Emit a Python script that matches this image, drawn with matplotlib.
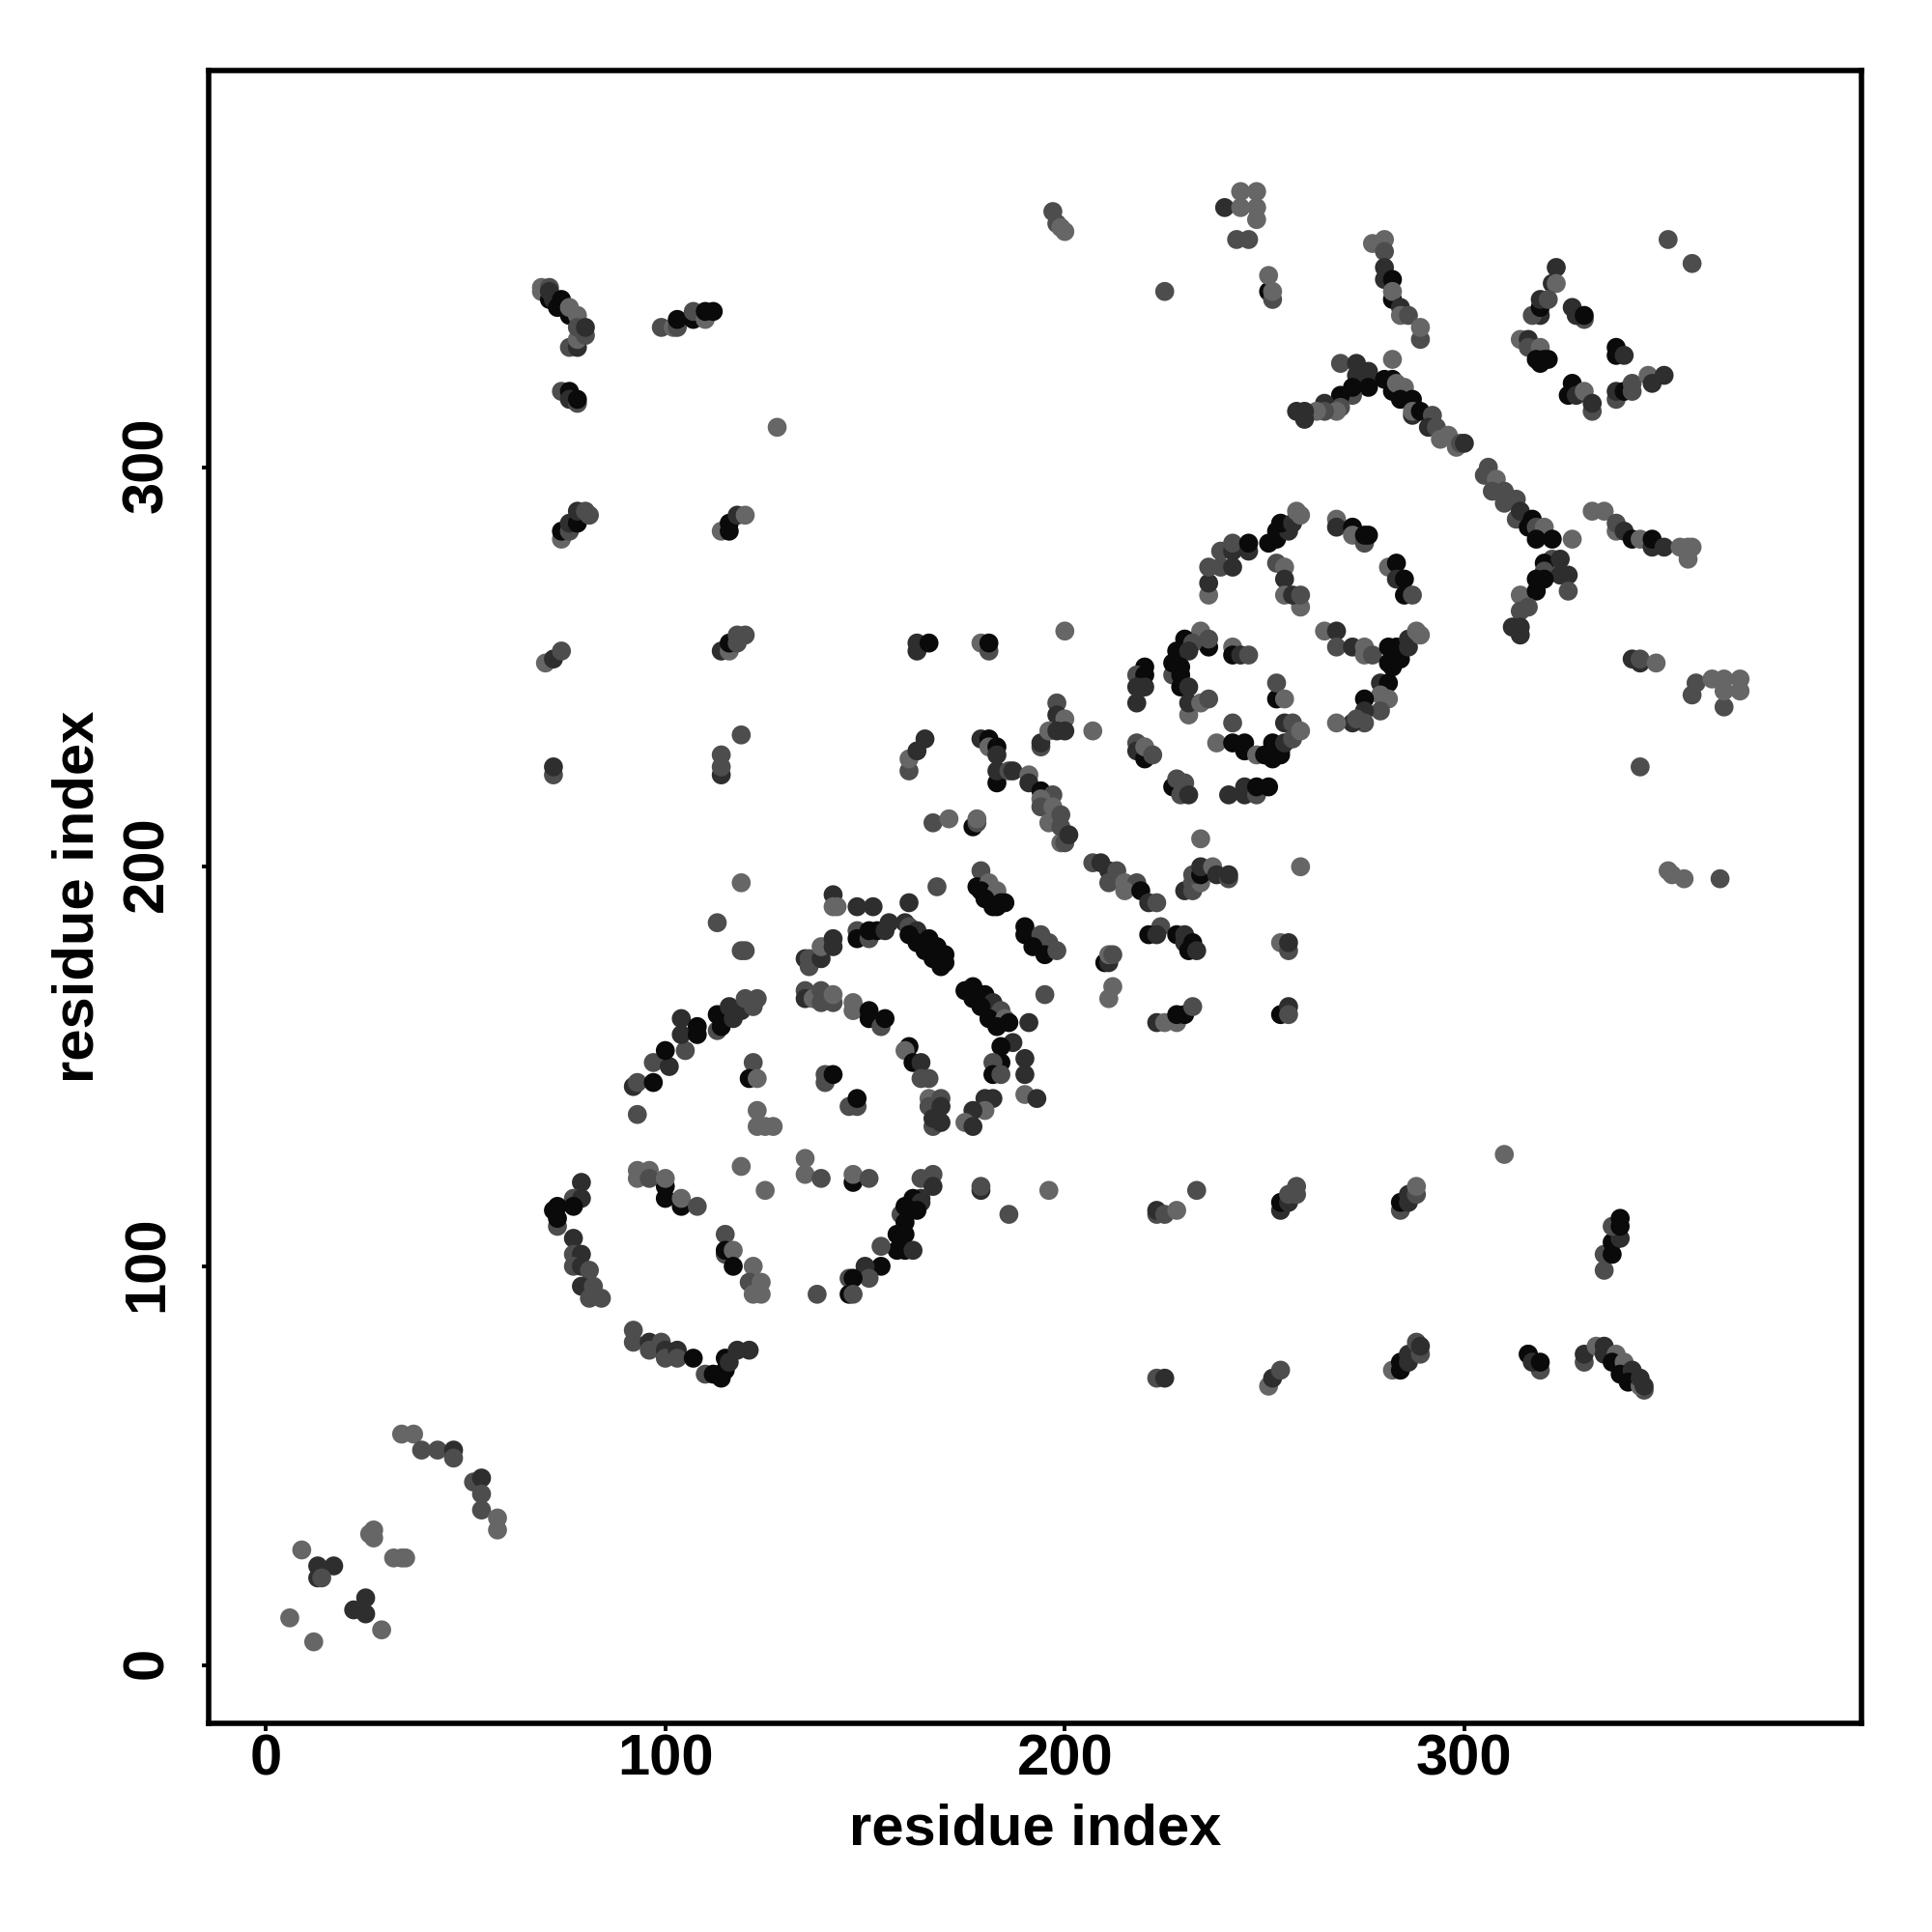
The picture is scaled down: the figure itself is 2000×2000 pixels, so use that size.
import matplotlib
matplotlib.use("Agg")
import matplotlib.pyplot as plt
from matplotlib.transforms import ScaledTranslation

plt.rcParams['font.family'] = ['Liberation Sans', 'DejaVu Sans']
plt.rcParams['font.weight'] = 'bold'

# contacts as (residue, residue, shade)
# L = light, M = mid, D = dark, B = black
shades = {'L': '#666666', 'M': '#4d4d4d', 'D': '#2e2e2e', 'B': '#0a0a0a'}

corner = [(6,12,'L'),(12,6,'L'),(9,29,'L'),(13,25,'D'),(17,25,'D'),(13,22,'D'),(14,22,'M'),
          (22,14,'D'),(25,17,'D'),(25,13,'D'),(29,9,'L'),(26,33,'L'),(27,34,'L'),(27,32,'L'),
          (32,27,'L'),(34,27,'L'),(35,27,'L'),(34,58,'L'),(37,58,'L'),(39,54,'M'),(43,54,'M'),
          (47,54,'D'),(47,52,'M'),(52,46,'M'),(54,47,'D'),(54,43,'M'),(54,39,'M'),(58,37,'L'),(58,34,'L')]

ring_upper = [(119,196,'L'),(113,186,'M'),(119,179,'M'),(120,179,'M'),(142,193,'D'),(143,190,'L'),(142,190,'L'),
              (148,190,'D'),(152,190,'D'),(161,191,'D'),(168,195,'M'),(179,199,'M'),(178,195,'B'),(181,196,'L'),
              (179,194,'B'),(183,194,'L'),(180,192,'B'),(182,190,'B'),(183,190,'B'),(184,191,'B'),(185,191,'B'),
              (135,177,'D'),(136,175,'M'),(136,177,'M'),(139,177,'D'),(139,180,'L'),(142,180,'D'),(142,182,'D'),
              (148,184,'M'),(148,182,'B'),(151,182,'M'),(151,184,'B'),(153,184,'B'),(155,184,'D'),(156,186,'D'),
              (160,186,'D'),(161,185,'M'),(163,184,'D'),(161,183,'B'),(166,182,'B'),(163,181,'B'),(168,180,'B'),
              (165,179,'B'),(170,178,'B'),(167,177,'B'),(170,176,'B'),(169,175,'B'),
              (190,185,'B'),(190,183,'B'),(194,183,'M'),(196,181,'M'),(192,180,'B'),(195,178,'B'),(198,179,'M'),
              (195,168,'M'),(175,169,'B'),(177,170,'B'),(180,168,'B'),(177,167,'B'),(182,166,'D'),(179,165,'B'),
              (184,164,'M'),(181,162,'B'),(185,162,'L'),(183,160,'B'),(186,161,'B'),(191,161,'D'),(187,156,'D'),
              (184,155,'B'),(184,151,'B'),(182,151,'M'),(190,152,'D'),(190,148,'D'),(182,148,'B'),(184,148,'M'),
              (190,143,'L'),(193,142,'D'),(180,142,'D'),(182,142,'D'),(180,139,'L'),(177,139,'D'),(175,136,'L'),(177,135,'D')]

ring_centre = [(135,169,'M'),(135,167,'D'),(137,167,'L'),(139,169,'M'),(139,166,'M'),(142,166,'M'),(142,168,'L'),
               (147,166,'L'),(147,164,'L'),(151,164,'B'),(151,162,'B'),(154,160,'M'),(155,162,'B'),
               (161,155,'B'),(160,154,'L'),(162,151,'B'),(164,151,'D'),(164,147,'M'),(166,147,'M'),
               (166,142,'L'),(169,142,'M'),(166,140,'M'),(169,140,'D'),(167,135,'M'),(167,137,'D'),(169,136,'D'),
               (140,146,'M'),(140,148,'M'),(142,148,'B'),(146,140,'M'),(148,140,'M'),(148,142,'B'),
               (122,151,'M'),(121,147,'B'),(123,147,'L'),(123,139,'L'),(123,135,'L'),(125,135,'L'),(127,135,'L'),(93,138,'M'),
               (92,145,'D'),(93,146,'M'),(97,146,'B'),(97,151,'M'),(101,150,'D'),(100,154,'B'),(105,154,'M'),(104,162,'D'),
               (104,158,'D'),(108,158,'B'),(108,160,'B'),(113,159,'M'),(113,163,'B'),(114,160,'B'),(116,165,'D'),
               (117,162,'D'),(119,164,'D'),(120,167,'M'),(122,165,'M'),(123,167,'M')]

ring_lower = [(93,124,'L'),(93,122,'L'),(96,124,'L'),(100,120,'B'),(96,122,'M'),(100,122,'L'),(100,117,'B'),
              (104,115,'B'),(104,117,'L'),(108,115,'M'),(119,125,'L'),(125,119,'L'),(135,127,'L'),(135,123,'L'),
              (139,122,'M'),(147,121,'B'),(147,123,'L'),(151,122,'M'),
              (167,123,'M'),(164,122,'M'),(167,120,'D'),(164,117,'D'),(162,117,'B'),(164,116,'D'),(159,113,'M'),
              (160,115,'B'),(163,114,'B'),(160,111,'B'),(158,108,'B'),(160,108,'B'),(158,104,'B'),(160,104,'B'),
              (162,104,'D'),(154,105,'M'),(154,100,'B'),(150,100,'D'),(151,97,'M'),(146,97,'M'),(147,97,'B'),
              (146,93,'B'),(147,93,'M'),(138,93,'M'),(179,119,'D'),(179,120,'M'),(196,119,'L'),(186,113,'M'),
              (79,121,'D'),(77,117,'M'),(79,117,'D'),(73,115,'B'),(77,115,'B'),(73,110,'M'),(72,114,'B'),(73,112,'B'),
              (77,107,'D'),(77,103,'M'),(79,103,'D'),(77,100,'M'),(79,100,'D'),(81,99,'M'),(79,95,'D'),(82,95,'M'),
              (81,92,'M'),(84,92,'M'),
              (92,84,'M'),(92,81,'M'),(96,81,'D'),(96,79,'M'),(99,81,'M'),(100,79,'D'),(100,77,'M'),(103,79,'D'),
              (103,77,'M'),(107,77,'B'),(110,73,'M'),(112,73,'B'),(114,72,'B'),(115,74,'B'),(115,77,'B'),(116,76,'D'),
              (118,79,'D'),(121,79,'D'),
              (115,108,'M'),(115,103,'M'),(115,104,'B'),(117,104,'L'),(117,100,'B'),(122,100,'L'),(121,96,'M'),
              (124,96,'L'),(122,93,'L'),(124,93,'L')]

barrel = [(236,268,'L'),(236,271,'D'),(236,275,'M'),(239,275,'M'),(242,275,'D'),(239,279,'M'),(242,279,'D'),(242,281,'M'),
          (246,279,'D'),(246,281,'B'),(251,281,'B'),(253,282,'B'),(253,284,'B'),(256,284,'D'),(254,286,'B'),(257,286,'D'),
          (258,289,'L'),(259,288,'L'),(253,276,'M'),(255,275,'L'),(255,272,'D'),(255,268,'L'),(259,265,'L'),(257,268,'D'),(259,268,'M'),
          (268,287,'L'),(268,285,'D'),(272,285,'B'),(272,283,'L'),(275,281,'M'),(275,283,'B'),(276,283,'B'),
          (281,275,'L'),(283,276,'B'),(283,272,'D'),(285,272,'B'),(285,268,'B'),(287,268,'M'),
          (265,259,'L'),(268,259,'D'),(268,255,'M'),(272,255,'D'),(275,255,'L'),(275,253,'L'),(277,253,'M'),
          (281,255,'B'),(281,251,'B'),(283,255,'B'),(282,250,'B'),(284,252,'B'),(286,255,'D'),(286,257,'D'),(288,259,'L'),(289,258,'L'),
          (279,246,'D'),(281,246,'B'),(279,243,'L'),(281,242,'L'),(275,242,'B'),(279,239,'M'),(275,239,'D'),(275,236,'M'),
          (272,236,'D'),(273,237,'M'),(268,236,'L'),
          (234,259,'L'),(230,257,'B'),(236,255,'B'),(236,257,'M'),(232,256,'M'),(228,254,'B'),(231,254,'D'),(227,248,'M'),(227,251,'B'),
          (229,250,'B'),(229,248,'B'),(229,245,'B'),(231,245,'D'),(231,238,'L'),(231,241,'D'),(234,241,'L'),(236,242,'M'),
          (242,255,'L'),(242,253,'B'),(244,253,'D'),(246,253,'M'),(253,242,'B'),(253,246,'M'),(255,242,'L'),
          (220,250,'B'),(218,248,'M'),(220,248,'B'),(218,245,'D'),(220,245,'D'),(218,241,'D'),
          (218,231,'M'),(218,229,'D'),(219,229,'D'),(220,227,'B'),(220,230,'L'),(222,228,'M'),
          (227,220,'B'),(229,218,'M'),(228,222,'M'),(230,221,'M'),(231,218,'D'),
          (241,218,'D'),(245,220,'D'),(245,218,'D'),(248,218,'M'),(248,220,'B'),(251,220,'B'),
          (242,236,'M'),(238,231,'L'),(242,231,'B'),(245,231,'B'),(245,229,'B'),(248,228,'L'),(250,228,'B'),(252,227,'B'),
          (254,228,'B'),(252,231,'B'),(254,229,'B'),(255,231,'D'),(255,236,'D'),(257,236,'M'),(257,232,'M'),(259,234,'L')]

middle = [(179,256,'L'),(181,254,'M'),(181,256,'B'),(200,259,'L'),(198,241,'M'),(198,238,'D'),(200,237,'L'),
          (194,230,'M'),(194,231,'D'),(196,234,'L'),(198,234,'D'),(200,234,'D'),(207,234,'L'),
          (179,232,'D'),(181,232,'B'),(181,230,'L'),(183,230,'B'),(183,228,'D'),
          (183,221,'B'),(183,224,'D'),(186,224,'M'),(187,224,'D'),
          (191,223,'L'),(191,221,'D'),(194,219,'B'),(197,218,'M'),(194,217,'L'),(194,215,'M'),(197,215,'L'),
          (196,211,'L'),(199,213,'M'),(199,206,'L'),(199,210,'M'),(200,206,'M'),(201,208,'D'),
          (177,210,'B'),(178,211,'M'),(178,212,'L'),(167,211,'M'),(171,212,'L'),
          (207,201,'M'),(209,201,'D'),(211,199,'D'),(213,199,'M'),(211,196,'M'),(215,196,'L'),(218,196,'M'),(215,194,'L'),
          (219,194,'B'),(221,191,'D'),(223,191,'M'),(224,185,'M'),(221,183,'B'),(223,183,'D'),(228,183,'B'),(230,183,'D'),
          (230,181,'D'),(232,181,'B'),(231,179,'B'),(233,179,'D'),(210,176,'B'),(211,176,'D'),(211,178,'L'),(212,178,'M'),
          (212,170,'L'),(211,167,'L'),(223,161,'D'),(225,161,'L'),(228,161,'L'),(228,163,'B'),(230,163,'B'),(232,165,'M'),
          (254,181,'L'),(256,179,'M'),(256,181,'D'),(254,163,'B'),(256,165,'D'),(256,163,'M'),
          (234,207,'L'),(259,200,'L'),(230,194,'D'),(232,194,'M'),(232,196,'M'),(234,196,'L'),(232,198,'M'),(234,198,'B'),
          (234,200,'D'),(237,200,'L'),(238,198,'D'),(241,197,'M'),(241,198,'D')]

upper_right = [(351,357,'M'),(357,351,'M'),(277,356,'L'),(280,357,'L'),(280,354,'M'),(280,350,'D'),(280,347,'D'),(282,347,'B'),
               (282,342,'B'),(282,344,'L'),(284,340,'D'),(284,338,'L'),(286,338,'M'),(289,332,'M'),(289,335,'L'),
               (251,344,'B'),(251,348,'L'),(252,342,'M'),(252,344,'L'),
               (323,350,'D'),(322,346,'D'),(323,346,'L'),(319,338,'D'),(317,338,'M'),(319,340,'B'),(319,342,'D'),(321,342,'M'),
               (327,340,'D'),(330,337,'M'),(328,338,'D'),(330,338,'B'),(338,330,'B'),(338,328,'B'),(340,328,'D'),
               (314,332,'L'),(316,332,'D'),(316,330,'M'),(319,330,'L'),(318,327,'B'),(319,326,'B'),(320,327,'B'),(321,327,'B'),
               (327,321,'B'),(326,318,'B'),(328,318,'D'),(330,319,'L'),(332,314,'M'),(332,316,'D'),
               (338,317,'M'),(338,319,'D'),(340,319,'B'),(342,319,'M'),(342,321,'M'),(346,323,'L'),(347,321,'D'),(350,323,'D'),
               (269,326,'M'),(273,326,'D'),(273,323,'D'),(276,324,'D'),(276,323,'D'),(276,320,'B'),(272,318,'M'),(272,320,'B'),
               (269,318,'B'),(269,315,'M'),(265,316,'D'),(268,314,'L'),(265,314,'M'),(263,314,'L'),(258,314,'D'),(260,312,'D'),(260,314,'D'),
               (282,327,'L'),(280,322,'B'),(282,322,'B'),(282,319,'B'),(283,321,'L'),(285,320,'L'),(284,317,'B'),(287,317,'B'),
               (287,313,'D'),(287,314,'L'),(289,314,'B'),(292,313,'M'),(291,310,'D'),(293,310,'M'),(294,307,'L'),(296,308,'L'),
               (298,305,'L'),(299,306,'M'),(300,306,'D'),
               (305,298,'M'),(306,300,'M'),(308,297,'L'),(307,294,'M'),(310,291,'M'),(310,294,'M'),(313,292,'M'),(313,287,'M'),
               (314,289,'D'),(316,285,'B'),(317,287,'B'),(318,285,'M'),(320,285,'L'),(318,282,'B'),(322,282,'B'),(327,282,'L'),
               (322,277,'M'),(320,276,'B'),(324,277,'D'),(320,274,'M'),(324,273,'D'),(326,273,'D'),(318,272,'B'),(320,272,'B'),
               (326,269,'M'),(314,268,'L'),(318,269,'B'),(316,265,'M'),(314,264,'M'),(312,260,'D'),(314,258,'D'),(314,260,'D'),
               (332,289,'L'),(335,289,'L'),(338,284,'L'),(338,286,'M'),(340,284,'D'),(342,282,'B'),(344,282,'L'),(347,280,'D'),
               (347,282,'B'),(350,280,'D'),(356,277,'L'),(354,280,'L'),(356,280,'L'),(357,280,'L'),
               (342,252,'D'),(344,251,'D'),(344,252,'M'),(348,251,'L'),
               (357,243,'M'),(358,246,'M'),(362,247,'L'),(365,240,'M'),(365,244,'L'),(365,247,'L'),(369,244,'L'),(369,247,'L'),
               (344,225,'M'),(351,199,'L'),(352,198,'L'),(355,197,'L'),(364,197,'M'),(310,128,'L'),(128,310,'L')]

top_left = [(197,364,'M'),(198,361,'M'),(199,360,'L'),(200,359,'L'),(225,344,'M'),(240,365,'D'),(244,365,'L'),(244,369,'L'),
            (248,369,'L'),(248,365,'L'),(248,362,'L'),(243,357,'M'),(246,357,'M'),
            (69,344,'L'),(69,345,'L'),(71,345,'M'),(71,342,'B'),(71,344,'D'),(72,342,'D'),(73,340,'B'),(74,342,'B'),
            (76,338,'B'),(76,340,'L'),(78,338,'L'),(76,330,'M'),(78,330,'D'),(78,332,'L'),(78,335,'M'),(80,333,'M'),(80,335,'D'),
            (74,319,'M'),(76,319,'B'),(76,317,'D'),(78,316,'M'),(78,317,'B'),
            (99,335,'M'),(102,335,'L'),(103,335,'M'),(103,337,'B'),(107,337,'B'),(107,339,'M'),(110,337,'L'),(110,339,'B'),(112,339,'B'),
            (74,282,'L'),(74,284,'B'),(76,284,'M'),(76,286,'D'),(78,286,'B'),(78,289,'D'),(80,289,'M'),(81,288,'M'),
            (114,284,'L'),(116,284,'B'),(116,286,'B'),(118,288,'D'),(120,288,'L'),
            (70,251,'L'),(72,252,'D'),(74,254,'M'),(114,254,'D'),(116,254,'L'),(116,256,'B'),(118,256,'M'),(120,258,'M'),(118,258,'M'),
            (72,223,'M'),(72,225,'D'),(114,223,'D'),(114,225,'M'),(114,228,'M'),(119,233,'M'),
            (161,224,'M'),(161,227,'L'),(163,229,'D'),(165,232,'D'),(163,254,'D'),(163,256,'D'),(166,256,'B')]

lower_right = [(223,113,'M'),(223,114,'D'),(225,113,'M'),(228,114,'L'),(233,119,'M'),
               (254,114,'D'),(254,116,'B'),(256,116,'D'),(256,118,'M'),(258,118,'M'),(258,120,'M'),
               (284,114,'M'),(284,116,'B'),(286,116,'D'),(286,118,'D'),(288,118,'M'),(288,120,'L'),
               (335,99,'M'),(335,103,'M'),(337,103,'B'),(337,106,'B'),(339,107,'D'),(337,110,'M'),(339,110,'B'),(339,112,'B'),
               (223,72,'M'),(225,72,'D'),(251,70,'L'),(252,72,'D'),(254,74,'M'),
               (282,74,'L'),(284,74,'B'),(284,76,'B'),(286,76,'D'),(286,78,'D'),(288,81,'M'),(289,78,'M'),(289,80,'D'),
               (316,78,'M'),(316,78,'B'),(319,74,'M'),(317,76,'D'),(319,76,'B'),
               (330,76,'M'),(330,78,'D'),(333,80,'L'),(335,78,'D'),(335,80,'D'),(338,78,'L'),(337,76,'B'),(340,76,'L'),
               (339,73,'B'),(342,74,'D'),(341,71,'B'),(345,69,'M'),(344,70,'L'),(344,72,'D'),(345,70,'D')]

tick_values = [0, 100, 200, 300]
axis_label = "residue index"

fig = plt.figure(figsize=(10, 10), dpi=200)
ax = fig.add_axes([0.108, 0.108, 0.8555, 0.8555])

for group in [corner, ring_upper, ring_centre, ring_lower, barrel, middle, upper_right, top_left, lower_right]:
    xs = [p[0] for p in group]
    ys = [p[1] for p in group]
    cs = [shades[p[2]] for p in group]
    ax.scatter(xs, ys, c=cs, s=50, linewidths=0, zorder=2)

ax.set_xlim(-14.3, 399.4)
ax.set_ylim(-14.4, 399.3)
ax.set_xticks(tick_values)
ax.set_yticks(tick_values)
for s in ax.spines.values():
    s.set_linewidth(2.0)
ax.tick_params(axis='x', length=2.7, width=1.4, labelsize=21.5, pad=1)
ax.tick_params(axis='y', length=2.7, width=1.4, labelsize=21.5, pad=14.4)
plt.setp(ax.get_yticklabels(), rotation=90, ha='center', va='baseline', rotation_mode='anchor')
nudge = ScaledTranslation(0, 3 / 200, fig.dpi_scale_trans)
for lab in ax.get_yticklabels():
    lab.set_transform(lab.get_transform() + nudge)
ax.set_xlabel(axis_label, fontsize=21.5, fontweight='bold')
ax.set_ylabel(axis_label, fontsize=21.5, fontweight='bold')
ax.xaxis.set_label_coords(0.5, -0.048)
ax.yaxis.set_label_coords(-0.0629, 0.5)

fig.savefig("out.png", dpi=200)
